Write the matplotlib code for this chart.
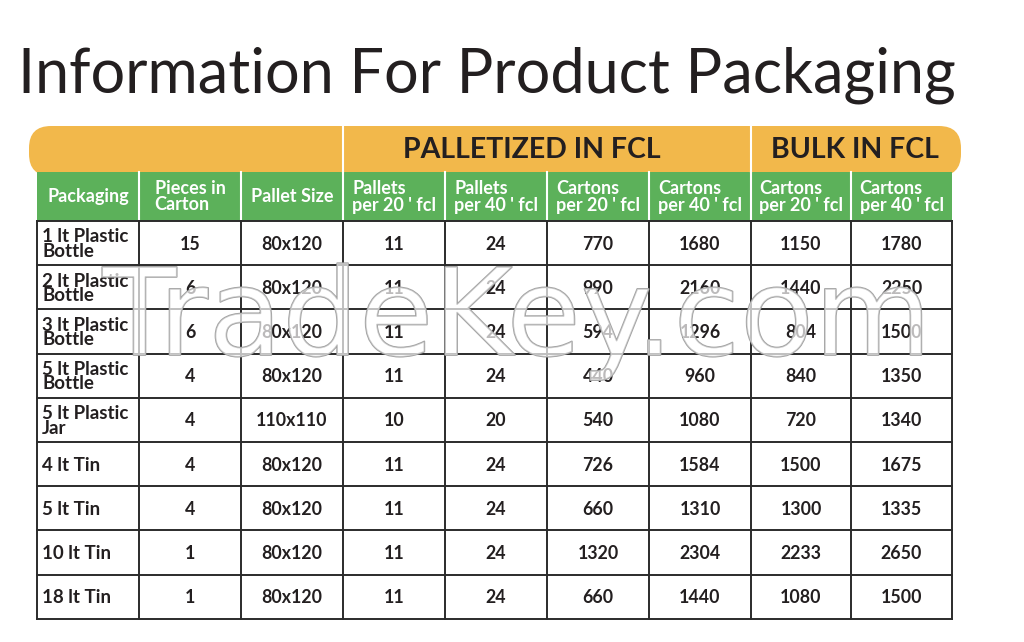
import matplotlib.pyplot as plt
from matplotlib.patches import Rectangle, FancyBboxPatch
import matplotlib.patheffects as pe

# table content
group_titles = ["PALLETIZED IN FCL", "BULK IN FCL"]
col_headers = ["Packaging", "Pieces in\nCarton", "Pallet Size",
               "Pallets\nper 20 ' fcl", "Pallets\nper 40 ' fcl",
               "Cartons\nper 20 ' fcl", "Cartons\nper 40 ' fcl",
               "Cartons\nper 20 ' fcl", "Cartons\nper 40 ' fcl"]
packaging = ["1 lt Plastic\nBottle", "2 lt Plastic\nBottle", "3 lt Plastic\nBottle",
             "5 lt Plastic\nBottle", "5 lt Plastic\nJar", "4 lt Tin", "5 lt Tin",
             "10 lt Tin", "18 lt Tin"]
pieces = [15, 6, 6, 4, 4, 4, 4, 1, 1]
pallet_size = ["80x120", "80x120", "80x120", "80x120", "110x110",
               "80x120", "80x120", "80x120", "80x120"]
pallets_20 = [11, 11, 11, 11, 10, 11, 11, 11, 11]
pallets_40 = [24, 24, 24, 24, 20, 24, 24, 24, 24]
cartons_20 = [770, 990, 594, 440, 540, 726, 660, 1320, 660]
cartons_40 = [1680, 2160, 1296, 960, 1080, 1584, 1310, 2304, 1440]
bulk_20 = [1150, 1440, 804, 840, 720, 1500, 1300, 2233, 1080]
bulk_40 = [1780, 2250, 1500, 1350, 1340, 1675, 1335, 2650, 1500]

ORANGE = "#f2b84b"
GREEN = "#5cb15a"
INK = "#231f20"
BODY_FONT = ["Lato", "DejaVu Sans"]

fig = plt.figure(figsize=(10.24, 6.42), dpi=100)
ax = fig.add_axes([0, 0, 1, 1])
ax.set_xlim(0, 1024)
ax.set_ylim(642, 0)
ax.axis("off")

cols = [37, 139, 241, 343, 445, 547, 649, 751, 851, 952]
top = 221
row_h = 44.2
n = len(packaging)

# title
ax.text(18, 93, "Information For Product Packaging", fontsize=44,
        family=["Lato", "DejaVu Sans"], color=INK, ha="left", va="baseline")

# orange group bar
ax.add_patch(FancyBboxPatch((29, 126), 932, 50,
                            boxstyle="round,pad=0,rounding_size=22",
                            fc=ORANGE, ec="none"))
for x in [cols[3], cols[7]]:
    ax.plot([x, x], [126, 172], color="white", lw=1.5)
ax.text(532, 150, group_titles[0], fontsize=20.5, fontweight="bold",
        family=BODY_FONT, color=INK, ha="center", va="center")
ax.text(855, 150, group_titles[1], fontsize=20.5, fontweight="bold",
        family=BODY_FONT, color=INK, ha="center", va="center")

# green column header
ax.add_patch(Rectangle((cols[0], 172), cols[-1] - cols[0], top - 172, fc=GREEN, ec="none"))
for x in cols[1:-1]:
    ax.plot([x, x], [172, top], color="white", lw=1.5)
for i, h in enumerate(col_headers):
    ax.text((cols[i] + cols[i + 1]) / 2, 196.5, h, fontsize=13, fontweight="bold",
            family=BODY_FONT, color="white", ha="center", va="center",
            multialignment="left", linespacing=1.0)

# body cells
columns = [pieces, pallet_size, pallets_20, pallets_40, cartons_20, cartons_40, bulk_20, bulk_40]
for r in range(n):
    yc = top + row_h * (r + 0.5)
    ax.text(cols[0] + 5, yc + 1, packaging[r], fontsize=13.5, fontweight="bold",
            family=BODY_FONT, color=INK, ha="left", va="center", linespacing=0.82)
    for c, vals in enumerate(columns):
        ax.text((cols[c + 1] + cols[c + 2]) / 2, yc + 1, str(vals[r]), fontsize=12.8,
                fontweight="bold", family=BODY_FONT, color=INK, ha="center", va="center")

# grid lines
bottom = top + row_h * n
for r in range(n + 1):
    y = top + row_h * r
    ax.plot([cols[0], cols[-1]], [y, y], color="#2b2b2b", lw=1.4, solid_capstyle="projecting")
for x in cols:
    ax.plot([x, x], [top, bottom], color="#2b2b2b", lw=1.4, solid_capstyle="projecting")

# watermark
ax.text(517, 355, "TradeKey.com", fontsize=87, family="DejaVu Sans",
        color=(1, 1, 1, 0.45), ha="center", va="baseline",
        path_effects=[pe.Stroke(linewidth=1.2, foreground="#a0a0a0"), pe.Normal()])

fig.savefig("out.png", dpi=100, facecolor="white")
